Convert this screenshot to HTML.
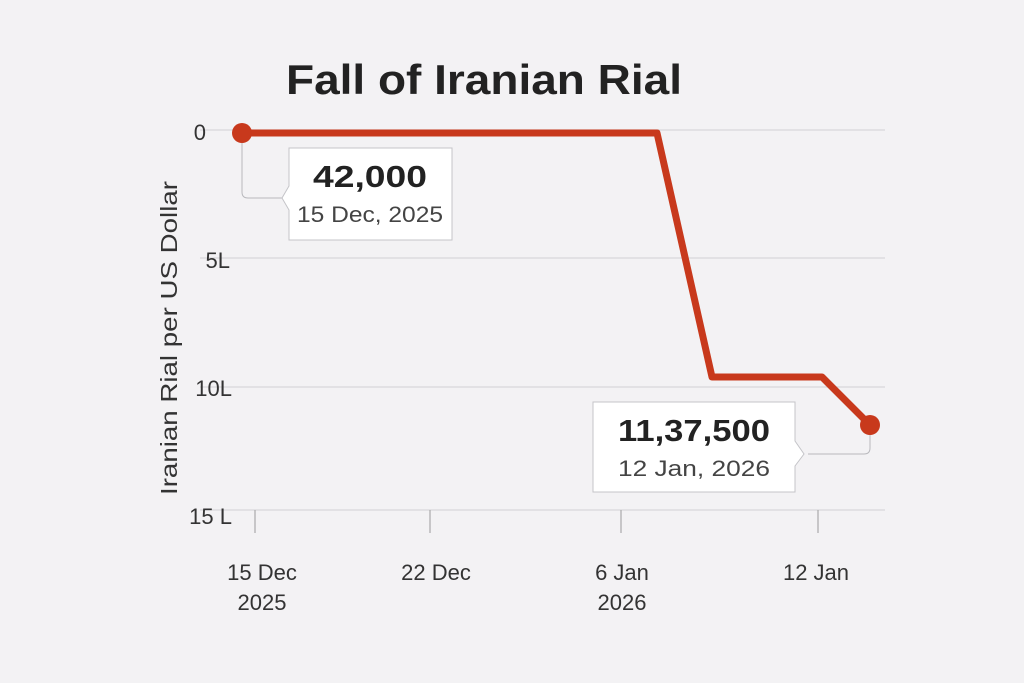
<!DOCTYPE html>
<html><head><style>
body{margin:0;background:#f3f2f4;}
svg{display:block;font-family:"Liberation Sans",sans-serif;}
</style></head><body>
<svg width="1024" height="683" viewBox="0 0 1024 683">
<rect width="1024" height="683" fill="#f3f2f4"/>
<text x="286" y="94" font-size="42" font-weight="bold" fill="#222" textLength="396" lengthAdjust="spacingAndGlyphs">Fall of Iranian Rial</text>
<g stroke="#d8d7da" stroke-width="1.2">
<line x1="200" y1="130" x2="885" y2="130"/>
<line x1="200" y1="258" x2="885" y2="258"/>
<line x1="200" y1="387" x2="885" y2="387"/>
<line x1="200" y1="510" x2="885" y2="510"/>
</g>
<g stroke="#aaa" stroke-width="1.2">
<line x1="255" y1="510" x2="255" y2="533"/>
<line x1="430" y1="510" x2="430" y2="533"/>
<line x1="621" y1="510" x2="621" y2="533"/>
<line x1="818" y1="510" x2="818" y2="533"/>
</g>
<g font-size="22" fill="#333" text-anchor="end">
<text x="206" y="140">0</text>
<text x="230" y="268">5L</text>
<text x="232" y="396">10L</text>
<text x="232" y="524">15 L</text>
</g>
<text transform="translate(177,338) rotate(-90)" text-anchor="middle" font-size="23" fill="#333" textLength="314" lengthAdjust="spacingAndGlyphs">Iranian Rial per US Dollar</text>
<g font-size="22" fill="#333" text-anchor="middle">
<text x="262" y="580">15 Dec</text><text x="262" y="610">2025</text>
<text x="436" y="580">22 Dec</text>
<text x="622" y="580">6 Jan</text><text x="622" y="610">2026</text>
<text x="816" y="580">12 Jan</text>
</g>
<polyline points="242,133 657,133 712,377 822,377 870,425" fill="none" stroke="#c8391c" stroke-width="7" stroke-linejoin="round"/>
<g fill="none" stroke="#b8b8bc" stroke-width="1">
<path d="M242,140 V192 Q242,198 248,198 H282"/>
<path d="M870,432 V448 Q870,454 864,454 H808"/>
</g>
<path d="M289,148 H452 V240 H289 V210 L282,198 L289,186 Z" fill="#fff" stroke="#c4c4c8"/>
<path d="M593,402 H795 V441 L804,454 L795,466 V492 H593 Z" fill="#fff" stroke="#c4c4c8"/>
<circle cx="242" cy="133" r="10" fill="#c8391c"/>
<circle cx="870" cy="425" r="10" fill="#c8391c"/>
<text x="370" y="187" text-anchor="middle" font-size="31" font-weight="bold" fill="#222" textLength="114" lengthAdjust="spacingAndGlyphs">42,000</text>
<text x="370" y="222" text-anchor="middle" font-size="22" fill="#444" textLength="146" lengthAdjust="spacingAndGlyphs">15 Dec, 2025</text>
<text x="694" y="441" text-anchor="middle" font-size="31" font-weight="bold" fill="#222" textLength="152" lengthAdjust="spacingAndGlyphs">11,37,500</text>
<text x="694" y="476" text-anchor="middle" font-size="22" fill="#444" textLength="152" lengthAdjust="spacingAndGlyphs">12 Jan, 2026</text>
</svg>
</body></html>
